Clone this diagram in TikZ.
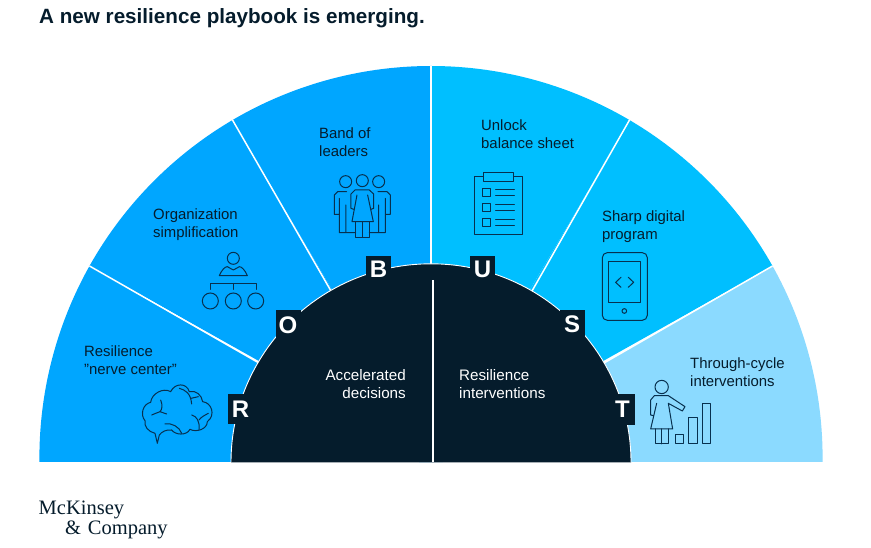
\documentclass[tikz,border=0pt]{standalone}
\usepackage{fontspec}
\setmainfont{Liberation Sans}
\newfontfamily\logofont{Liberation Serif}
\definecolor{ink}{HTML}{051C2C}
\definecolor{blueL}{HTML}{00A6FF}
\definecolor{blueR}{HTML}{00BFFF}
\definecolor{blueP}{HTML}{8BDAFF}
\definecolor{iconink}{HTML}{07304F}
\newcommand{\sectorfill}[4]{\fill[#3,shift={(431,457.6)}] (0,#4) -- (#1:391.6) arc[start angle=#1,end angle=#2,radius=391.6] -- cycle;}
\tikzset{
  x=1pt,y=-1pt,
  spokeline/.style={white,line width=1.5pt},
  lab/.style={font=\fontsize{14.9}{18}\selectfont,text=ink,inner sep=0pt,align=left,anchor=west},
  labw/.style={lab,text=white,font=\fontsize{15.2}{18}\selectfont},
  letterbox/.style={fill=ink,text=white,inner sep=0pt,font=\fontsize{24}{24}\selectfont\bfseries,minimum width=25pt},
  icon/.style={draw=iconink,line width=1pt,line join=round,line cap=round},
  iconz/.style={icon,x=0.3333pt,y=-0.3333pt},
}
\begin{document}
\begin{tikzpicture}
\useasboundingbox (0,0) rectangle (871,548);
\fill[white] (0,0) rectangle (871,548);
\sectorfill{-180.64}{-150.7}{blueL}{4.4}
\sectorfill{-150.7}{-120.5}{blueL}{0}
\sectorfill{-120.5}{-90}{blueL}{0}
\sectorfill{-90}{-59.5}{blueR}{0}
\sectorfill{-59.5}{-29.3}{blueR}{0}
\sectorfill{-29.3}{0.64}{blueP}{4.4}
% spokes
\coordinate (o1) at (89.5,266); \coordinate (i1) at (259,363);
\coordinate (o2) at (232.5,120); \coordinate (i2) at (331,291);
\coordinate (o3) at (431,66);    \coordinate (i3) at (431,264);
\coordinate (o4) at (629.5,120); \coordinate (i4) at (532,291);
\coordinate (o5) at (772.5,266); \coordinate (i5) at (604,363);
\foreach \k in {1,...,5}{\draw[spokeline] (i\k) -- (o\k);}
% dark half disc
\fill[ink,shift={(431,462.3)}] (-200,0) arc[start angle=-180,end angle=0,x radius=200,y radius=198.5] -- cycle;
\draw[white,line width=0.9pt,shift={(431,462.3)}] (-200,0) arc[start angle=-180,end angle=0,x radius=200,y radius=198.5];
\draw[white,line width=1.2pt] (433,280) -- (433,462.3);
% title
\node[inner sep=0pt,anchor=west,text=ink,font=\fontsize{20.65}{24}\selectfont\bfseries] (title) at (39,18) {A new resilience playbook is emerging.};
% labels
\node[lab] (l1) at (84,360.5) {Resilience\\"nerve center"};
\node[lab] (l2) at (153,225) {Organization\\simplification};
\node[lab] (l3) at (319,142) {Band of\\leaders};
\node[lab] (l4) at (481,134) {Unlock\\balance sheet};
\node[lab] (l5) at (602,227) {Sharp digital\\program};
\node[lab] (l6) at (690,372) {Through-cycle\\interventions};
\node[labw,align=right,anchor=east] (l7) at (406,384) {Accelerated\\decisions};
\node[labw] (l8) at (459,384) {Resilience\\interventions};
% letters
\node[letterbox,minimum height=30pt] (R) at (240.5,409) {R};
\node[letterbox,minimum height=30pt] (O) at (288,325) {O};
\node[letterbox,minimum height=26pt] (B) at (378.5,269) {B};
\node[letterbox,minimum height=26pt] (U) at (482.5,269) {U};
\node[letterbox,minimum height=28pt] (S) at (572,324) {S};
\node[letterbox,minimum height=31pt] (T) at (622.5,409) {T};
% brain
\begin{scope}[shift={(130,380)}]
\draw[iconz] (75,160) .. controls (55,155) and (42,140) .. (45,122)
  .. controls (30,105) and (38,72) .. (62,67)
  .. controls (65,40) and (100,22) .. (122,35)
  .. controls (135,8) and (170,8) .. (178,35)
  .. controls (198,30) and (215,45) .. (218,65)
  .. controls (245,68) and (258,105) .. (232,125)
  .. controls (232,148) and (198,158) .. (180,148)
  .. controls (170,168) and (135,165) .. (125,150)
  .. controls (110,148) and (95,155) .. (88,165)
  -- (82,190) -- cycle;
\draw[iconz] (148,25) .. controls (165,30) and (182,38) .. (185,72);
\draw[iconz] (183,55) -- (205,50);
\draw[iconz] (92,60) .. controls (98,75) and (97,88) .. (90,95) .. controls (82,100) and (72,100) .. (65,105);
\draw[iconz] (90,95) -- (110,102);
\draw[iconz] (105,132) .. controls (125,128) and (148,140) .. (155,160);
\draw[iconz] (185,105) .. controls (200,108) and (210,125) .. (207,148);
\draw[iconz] (207,120) .. controls (215,110) and (225,105) .. (235,100);
\end{scope}
% organisation
\begin{scope}[shift={(190,170)}]
\draw[iconz] (130,265) circle[radius=18];
\draw[iconz] (88,317) -- (172,317) .. controls (165,300) and (155,290) .. (148,290) .. controls (140,292) and (135,300) .. (130,300) .. controls (125,300) and (120,292) .. (112,290) .. controls (105,290) and (95,300) .. cycle;
\draw[iconz] (61,358) -- (61,341) -- (201,341) -- (201,358) (131,341) -- (131,358);
\draw[iconz] (61,393) circle[radius=24] (130,393) circle[radius=24] (197,393) circle[radius=24];
% people
\draw[iconz] (467,35) circle[radius=18] (517,32) circle[radius=18] (566,35) circle[radius=18];
\draw[iconz] (470,65) -- (443,65) -- (433,75) -- (433,133) -- (448,133) -- (448,85) (448,133) -- (448,188) -- (497,188) (468,188) -- (468,105);
\draw[iconz] (564,65) -- (591,65) -- (601,75) -- (601,133) -- (586,133) -- (586,85) (586,133) -- (586,188) -- (538,188) (566,188) -- (566,105);
\draw[iconz] (491,118) -- (483,115) -- (483,72) -- (495,60) -- (538,60) -- (551,72) -- (551,115) -- (543,118);
\draw[iconz] (501,75) -- (486,155) -- (550,155) -- (533,75);
\draw[iconz] (497,155) -- (497,202) -- (538,202) -- (538,155) (518,155) -- (518,202);
\end{scope}
% clipboard and tablet
\begin{scope}[shift={(450,160)}]
\draw[iconz] (72,50) rectangle (218,223);
\draw[iconz,fill=blueR] (101,38) rectangle (190,64);
\foreach \yy in {86,130,175}{
  \draw[iconz] (98,\yy) rectangle (123,\yy+25);
  \draw[iconz] (137,\yy+4) -- (193,\yy+4) (137,\yy+21) -- (193,\yy+21);
}
\draw[iconz,rounded corners=5pt] (457,278) rectangle (592,481);
\draw[iconz] (476,305) rectangle (571,427);
\draw[iconz] (513,352) -- (497,367) -- (513,382) (535,352) -- (551,367) -- (535,382);
\draw[iconz] (523,453) circle[radius=7];
\end{scope}
% woman and bars
\begin{scope}[shift={(610,350)}]
\draw[iconz] (155,111) circle[radius=20];
\draw[iconz] (130,197) -- (122,195) -- (122,150) -- (133,137) -- (175,137) -- (225,170) -- (217,183) -- (175,160) -- (188,237) -- (122,237) -- (140,160);
\draw[iconz] (136,237) -- (136,282) -- (176,282) -- (176,237) (156,237) -- (156,282);
\draw[iconz] (196,253) rectangle (222,282);
\draw[iconz] (237,204) rectangle (263,282);
\draw[iconz] (278,162) rectangle (303,282);
\end{scope}
% logo
\node[inner sep=0pt,anchor=west,text=ink,font=\logofont\fontsize{20.5}{21}\selectfont] (logoA) at (38.5,510) {McKinsey};
\node[inner sep=0pt,anchor=west,text=ink,font=\logofont\fontsize{20.5}{21}\selectfont] (logoB) at (65,530) {\&\,\,Company};
\end{tikzpicture}
\end{document}
